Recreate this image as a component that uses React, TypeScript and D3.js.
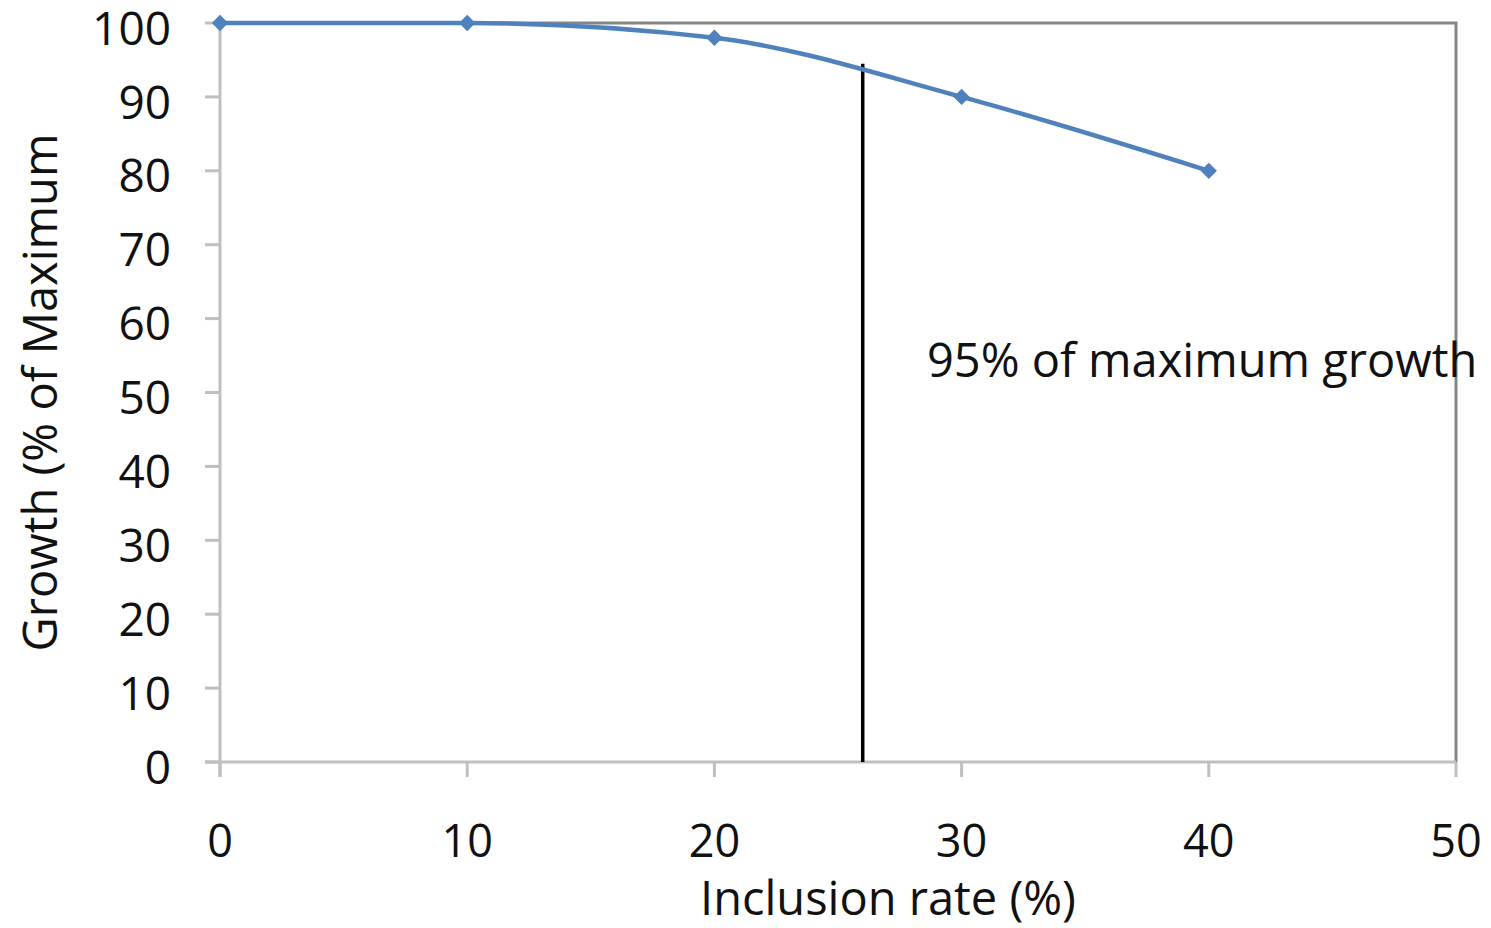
import React from "react";
import * as d3 from "d3";

const inclusionRates = [0, 10, 20, 30, 40];
const growthValues = [100, 100, 98, 90, 80];
const xTicks = [0, 10, 20, 30, 40, 50];
const yTicks = [0, 10, 20, 30, 40, 50, 60, 70, 80, 90, 100];
const refLineX = 26;
const refLineTop = 94.5;
const annotation = "95% of maximum growth";
const xLabel = "Inclusion rate (%)";
const yLabel = "Growth (% of Maximum";

export default function App() {
  const W = 1491, H = 928;
  const left = 220, right = 1456, top = 23, bottom = 762;
  const x = d3.scaleLinear().domain([0, 50]).range([left, right]);
  const y = d3.scaleLinear().domain([0, 100]).range([bottom, top]);
  const font = "'Open Sans', sans-serif";
  const line = d3
    .line<number>()
    .x((_, i) => x(inclusionRates[i]))
    .y((d) => y(d))
    .curve(d3.curveMonotoneX);
  const diamond = d3.symbol().type(d3.symbolDiamond2).size(170)();

  return (
    <svg width={W} height={H} style={{ position: "absolute", left: 0, top: 0, background: "#fff" }}>
      {/* frame top & right */}
      <path d={`M${left},${top}H${right}V${bottom}`} fill="none" stroke="#858585" strokeWidth={3} />
      {/* axes */}
      <line x1={left} x2={left} y1={top} y2={bottom + 15} stroke="#bfbfbf" strokeWidth={3} />
      <line x1={left - 15} x2={right} y1={bottom} y2={bottom} stroke="#bfbfbf" strokeWidth={3} />
      {yTicks.map((t) => (
        <g key={"y" + t}>
          <line x1={left - 15} x2={left} y1={y(t)} y2={y(t)} stroke="#bfbfbf" strokeWidth={3} />
          <text x={171} y={y(t)} dy="0.47em" textAnchor="end" fontFamily={font} fontSize={46} fill="#111">
            {t}
          </text>
        </g>
      ))}
      {xTicks.map((t) => (
        <g key={"x" + t}>
          <line x1={x(t)} x2={x(t)} y1={bottom} y2={bottom + 15} stroke="#bfbfbf" strokeWidth={3} />
          <text x={x(t)} y={857} textAnchor="middle" fontFamily={font} fontSize={45} fill="#111">
            {t}
          </text>
        </g>
      ))}
      <text x={888} y={915} textAnchor="middle" fontFamily={font} fontSize={47} fill="#111">
        {xLabel}
      </text>
      <text
        transform={`translate(57,${(top + bottom) / 2}) rotate(-90)`}
        textAnchor="middle"
        fontFamily={font}
        fontSize={47}
        fill="#111"
      >
        {yLabel}
      </text>
      {/* reference line */}
      <line x1={x(refLineX)} x2={x(refLineX)} y1={y(0)} y2={y(refLineTop)} stroke="#000" strokeWidth={3.5} />
      <text x={927} y={377} fontFamily={font} fontSize={47} fill="#111">
        {annotation}
      </text>
      {/* series */}
      <path d={line(growthValues) || ""} fill="none" stroke="#4f81bd" strokeWidth={4.5} />
      {growthValues.map((v, i) => (
        <path key={i} d={diamond || ""} transform={`translate(${x(inclusionRates[i])},${y(v)})`} fill="#4f81bd" />
      ))}
    </svg>
  );
}
